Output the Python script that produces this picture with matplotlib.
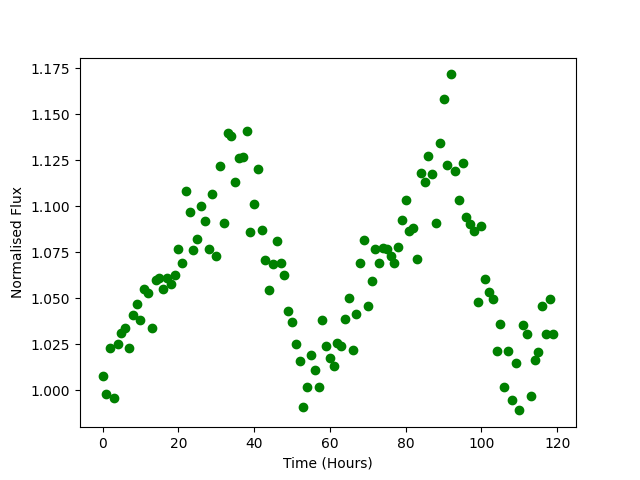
import matplotlib
matplotlib.use("Agg")
import matplotlib.pyplot as plt

# flux samples, one per hour
flux = [
    1.008, 0.998, 1.023, 0.996, 1.025, 1.031, 1.034, 1.023, 1.041, 1.047,
    1.038, 1.055, 1.053, 1.034, 1.060, 1.061, 1.055, 1.061, 1.058, 1.0625,
    1.077, 1.069, 1.108, 1.097, 1.076, 1.082, 1.100, 1.092, 1.0765, 1.1065,
    1.073, 1.122, 1.091, 1.140, 1.138, 1.113, 1.126, 1.127, 1.141, 1.086,
    1.101, 1.120, 1.087, 1.0707, 1.0547, 1.0685, 1.081, 1.069, 1.0625, 1.043,
    1.037, 1.025, 1.016, 0.991, 1.002, 1.019, 1.011, 1.0016, 1.038, 1.024,
    1.0176, 1.0134, 1.0255, 1.0243, 1.0386, 1.050, 1.022, 1.0417, 1.069, 1.0815,
    1.046, 1.0596, 1.0765, 1.069, 1.0775, 1.077, 1.0728, 1.0694, 1.0777, 1.0927,
    1.1036, 1.0868, 1.0884, 1.0716, 1.1183, 1.1134, 1.1275, 1.1177, 1.0911, 1.1341,
    1.1585, 1.1222, 1.1716, 1.1194, 1.1036, 1.1237, 1.0942, 1.0906, 1.0864, 1.0482,
    1.089, 1.0603, 1.0533, 1.0495, 1.0216, 1.0362, 1.002, 1.0212, 0.9949, 1.0147,
    0.9891, 1.0353, 1.0308, 0.9971, 1.0167, 1.0207, 1.046, 1.0308, 1.0495, 1.0308,
]
hours = list(range(len(flux)))

fig, ax = plt.subplots(figsize=(6.4, 4.8), dpi=100)
ax.plot(hours, flux, "o", color="green")
ax.set_xlabel("Time (Hours)")
ax.set_ylabel("Normalised Flux")
fig.savefig("out.png")
